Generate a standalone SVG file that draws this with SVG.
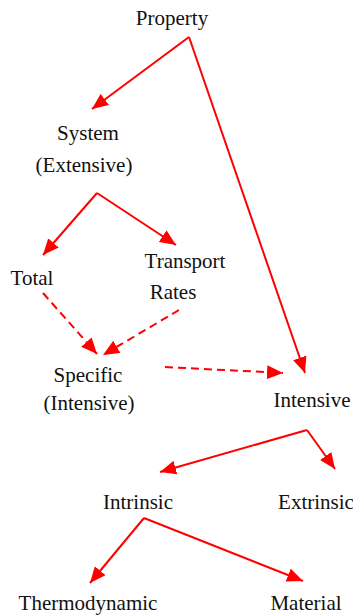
<svg xmlns="http://www.w3.org/2000/svg" width="353" height="615" viewBox="0 0 353 615">
<style>
text{font-family:"Liberation Serif","Times New Roman",serif;font-size:21px;fill:#111}
.c{fill:none;stroke:#ff0000;stroke-width:2}
.d{stroke-dasharray:8,5}
</style>
<defs>
<marker id="ah" markerUnits="userSpaceOnUse" viewBox="0 0 16 14" markerWidth="16" markerHeight="14" refX="16" refY="7" orient="auto">
<path d="M0,0 L16,7 L0,14 z" fill="#ff0000"/>
</marker>
</defs>
<rect width="353" height="615" fill="#fff"/>
<g id="connectors">
<path class="c" d="M189,37 L92,109" marker-end="url(#ah)"/>
<path class="c" d="M189,37 L305,373" marker-end="url(#ah)"/>
<path class="c" d="M97,193 L43,255" marker-end="url(#ah)"/>
<path class="c" d="M97,193 L176,245" marker-end="url(#ah)"/>
<path class="c d" d="M43,293 L97,354" marker-end="url(#ah)"/>
<path class="c d" d="M179,310 L103,355" marker-end="url(#ah)"/>
<path class="c d" d="M165,367 L283,373" marker-end="url(#ah)"/>
<path class="c" d="M307,430 L160,472" marker-end="url(#ah)"/>
<path class="c" d="M307,430 L335,469" marker-end="url(#ah)"/>
<path class="c" d="M144,518 L90,583" marker-end="url(#ah)"/>
<path class="c" d="M144,518 L303,581" marker-end="url(#ah)"/>
</g>
<g id="property"><text x="172" y="25" text-anchor="middle">Property</text></g>
<g id="system"><text x="88" y="140" text-anchor="middle">System</text><text x="84" y="172" text-anchor="middle">(Extensive)</text></g>
<g id="total"><text x="32" y="285" text-anchor="middle">Total</text></g>
<g id="transport"><text x="185" y="268" text-anchor="middle">Transport</text><text x="173" y="299" text-anchor="middle">Rates</text></g>
<g id="specific"><text x="88" y="382" text-anchor="middle">Specific</text><text x="89" y="410" text-anchor="middle">(Intensive)</text></g>
<g id="intensive"><text x="312" y="407" text-anchor="middle">Intensive</text></g>
<g id="intrinsic"><text x="138" y="509" text-anchor="middle">Intrinsic</text></g>
<g id="extrinsic"><text x="316" y="509" text-anchor="middle">Extrinsic</text></g>
<g id="thermodynamic"><text x="88" y="610" text-anchor="middle">Thermodynamic</text></g>
<g id="material"><text x="306" y="610" text-anchor="middle">Material</text></g>
</svg>
